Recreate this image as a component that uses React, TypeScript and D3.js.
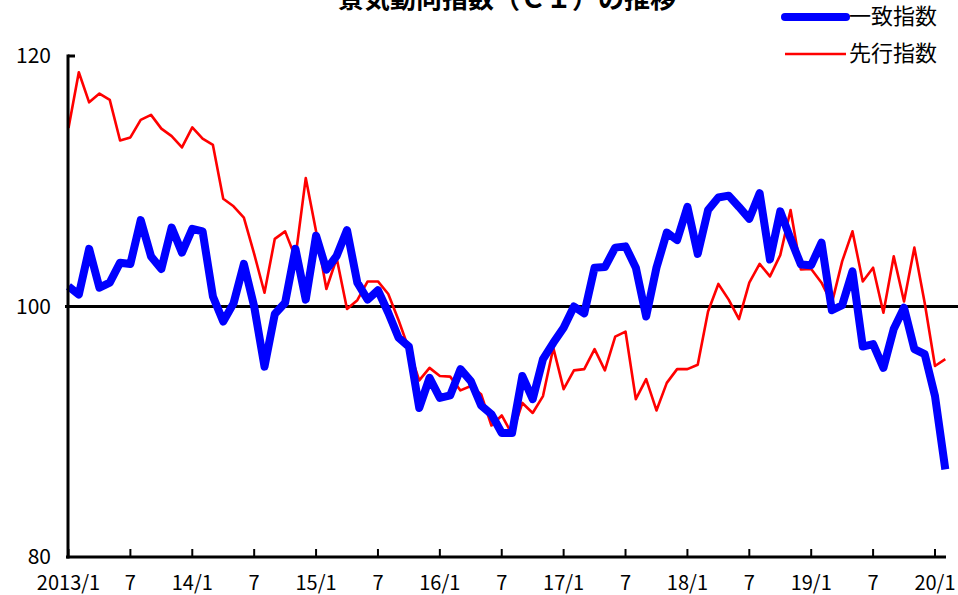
import React, { useEffect, useRef } from 'react';
import * as d3 from 'd3';

// 2013/1 〜 2020/2 (月次)
const coincident = [
  101.6, 100.95, 104.6, 101.5, 101.9, 103.5, 103.4, 106.9, 104.0, 103.0, 106.3, 104.3,
  106.2, 106.0, 100.8, 98.8, 100.25, 103.4, 100.0, 95.2, 99.4, 100.3, 104.6, 100.55,
  105.65, 102.95, 104.05, 106.1, 101.9, 100.55, 101.3, 99.5, 97.5, 96.8, 91.9, 94.3,
  92.7, 92.9, 95.0, 94.05, 92.1, 91.4, 89.9, 89.9, 94.45, 92.6, 95.8, 97.1,
  98.3, 100.0, 99.45, 103.1, 103.15, 104.7, 104.8, 103.1, 99.2, 103.1, 105.9, 105.3,
  107.95, 104.2, 107.7, 108.7, 108.85, 107.95, 107.0, 109.05, 103.75, 107.6, 105.4, 103.35,
  103.3, 105.1, 99.7, 100.1, 102.8, 96.8, 97.0, 95.1, 98.2, 99.9, 96.6, 96.2,
  92.85, 87.0,
];

const leading = [
  114.25, 118.7, 116.3, 117.0, 116.5, 113.25, 113.5, 114.9, 115.3, 114.2, 113.6, 112.7,
  114.3, 113.4, 112.9, 108.6, 108.0, 107.1, 104.2, 101.1, 105.4, 106.0, 103.9, 110.25,
  106.0, 101.4, 103.85, 99.8, 100.5, 102.0, 102.0, 101.0, 98.9, 96.6, 94.1, 95.1,
  94.45, 94.4, 93.3, 93.65, 93.0, 90.5, 91.3, 89.8, 92.3, 91.5, 92.85, 96.7,
  93.4, 94.9, 95.0, 96.6, 94.9, 97.6, 98.0, 92.6, 94.2, 91.7, 93.9, 95.0,
  95.0, 95.35, 99.6, 101.8, 100.55, 99.0, 101.9, 103.4, 102.4, 104.1, 107.7, 102.95,
  103.0, 101.9, 100.25, 103.6, 106.0, 102.0, 103.1, 99.5, 104.0, 100.4, 104.7, 100.3,
  95.25, 95.8,
];

const xTickLabels = [
  '2013/1', '7', '14/1', '7', '15/1', '7', '16/1', '7',
  '17/1', '7', '18/1', '7', '19/1', '7', '20/1',
];
const yTicks = [80, 100, 120];

const legendItems = [
  { name: '一致指数', color: '#0000ff', width: 8 },
  { name: '先行指数', color: '#ff0000', width: 2.6 },
];

const W = 958;
const H = 595;
const FONT = '"Noto Sans CJK JP", "Noto Sans", sans-serif';

const App: React.FC = () => {
  const svgRef = useRef<SVGSVGElement>(null);

  useEffect(() => {
    if (!svgRef.current) return;
    const svg = d3.select(svgRef.current);
    svg.selectAll('*').remove();

    const x = d3.scaleLinear().domain([0, coincident.length - 1]).range([68.5, 945.3]);
    const y = d3.scaleLinear().domain([80, 120]).range([557, 56]);

    // タイトル（元画像でも上端が切れている）
    svg.append('text')
      .attr('x', 507)
      .attr('y', 8)
      .attr('text-anchor', 'middle')
      .attr('font-family', FONT)
      .attr('font-weight', 'bold')
      .attr('font-size', 26)
      .text('景気動向指数（ＣＩ）の推移');

    // 100 の基準線
    svg.append('line')
      .attr('x1', 65).attr('x2', W)
      .attr('y1', y(100)).attr('y2', y(100))
      .attr('stroke', '#000').attr('stroke-width', 3);

    // 系列
    const line = d3.line<number>()
      .x((_, i) => x(i))
      .y(d => y(d))
      .curve(d3.curveLinear);

    svg.append('path')
      .datum(leading)
      .attr('d', line)
      .attr('fill', 'none')
      .attr('stroke', legendItems[1].color)
      .attr('stroke-width', legendItems[1].width)
      .attr('stroke-linejoin', 'round');

    svg.append('path')
      .datum(coincident)
      .attr('d', line)
      .attr('fill', 'none')
      .attr('stroke', legendItems[0].color)
      .attr('stroke-width', legendItems[0].width)
      .attr('stroke-linejoin', 'round');

    // 縦軸
    svg.append('line')
      .attr('x1', 68).attr('x2', 68)
      .attr('y1', y(120) - 1.5).attr('y2', y(80) + 1.5)
      .attr('stroke', '#000').attr('stroke-width', 3);
    svg.append('line')
      .attr('x1', 68).attr('x2', 75)
      .attr('y1', y(120)).attr('y2', y(120))
      .attr('stroke', '#000').attr('stroke-width', 3);

    svg.selectAll('.ylab')
      .data(yTicks)
      .enter()
      .append('text')
      .attr('class', 'ylab')
      .attr('x', 51)
      .attr('y', d => y(d) + 7)
      .attr('text-anchor', 'end')
      .attr('font-family', FONT)
      .attr('font-size', 21)
      .text(d => String(d));

    // 横軸
    svg.append('line')
      .attr('x1', 66).attr('x2', 946)
      .attr('y1', y(80)).attr('y2', y(80))
      .attr('stroke', '#000').attr('stroke-width', 3);

    const tickIdx = xTickLabels.map((_, i) => i * 6);
    svg.selectAll('.xtick')
      .data(tickIdx)
      .enter()
      .append('line')
      .attr('class', 'xtick')
      .attr('x1', d => x(d)).attr('x2', d => x(d))
      .attr('y1', y(80)).attr('y2', y(80) - 8)
      .attr('stroke', '#000').attr('stroke-width', 2);

    svg.selectAll('.xlab')
      .data(xTickLabels)
      .enter()
      .append('text')
      .attr('class', 'xlab')
      .attr('x', (_, i) => x(tickIdx[i]))
      .attr('y', 590)
      .attr('text-anchor', 'middle')
      .attr('font-family', FONT)
      .attr('font-size', 20)
      .text(d => d);

    // 凡例
    const legend = svg.selectAll('.legend')
      .data(legendItems)
      .enter()
      .append('g')
      .attr('class', 'legend')
      .attr('transform', (_, i) => `translate(785,${17 + i * 37})`);

    legend.append('line')
      .attr('x1', 0).attr('x2', 61)
      .attr('y1', 0).attr('y2', 0)
      .attr('stroke', d => d.color)
      .attr('stroke-width', d => d.width)
      .attr('stroke-linecap', d => (d.width > 4 ? 'round' : 'butt'));

    legend.append('text')
      .attr('x', 64)
      .attr('y', 7)
      .attr('font-family', FONT)
      .attr('font-size', 22)
      .text(d => d.name);
  }, []);

  return (
    <svg
      ref={svgRef}
      width={W}
      height={H}
      style={{ position: 'absolute', left: 0, top: 0, background: '#fff' }}
    />
  );
};

export default App;
